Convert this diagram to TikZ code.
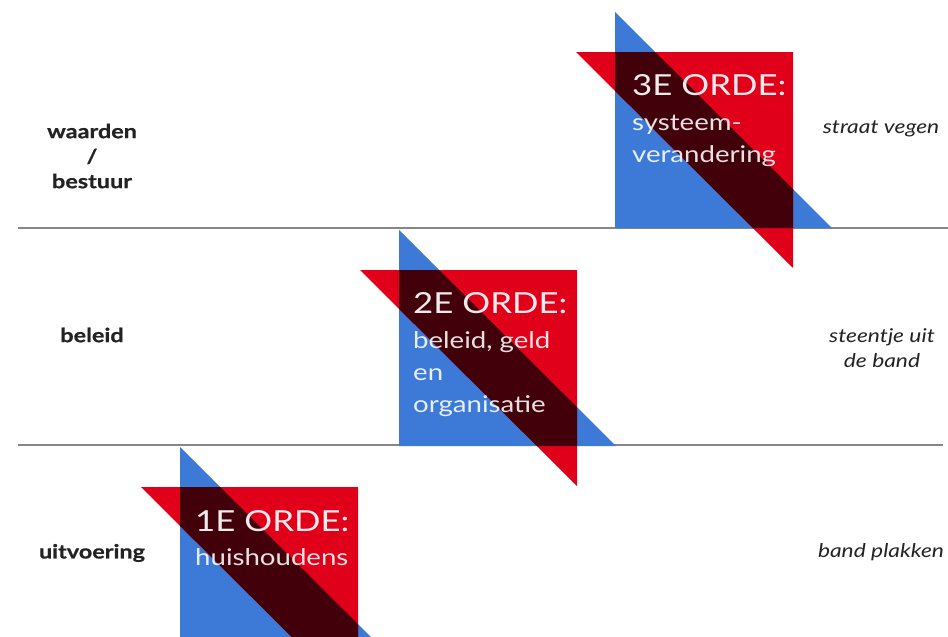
\documentclass[tikz,border=0pt]{standalone}
\usepackage{fontspec}
\setmainfont{Lato}
\newfontfamily\widelato[FakeStretch=1.2]{Lato}
\newfontfamily\widelatobold[FakeStretch=1.2,FakeBold=0.6]{Lato Bold}
\newfontfamily\widelatoit[FakeStretch=1.2]{Lato Italic}
\definecolor{tblue}{RGB}{61,122,216}
\definecolor{tred}{RGB}{225,0,26}
\definecolor{tdark}{RGB}{66,0,10}
\definecolor{tline}{RGB}{135,135,135}
\definecolor{ttext}{RGB}{35,35,35}
\tikzset{
  rowline/.style={draw=tline, line width=1.6pt},
  lefttext/.style={font=\widelatobold\fontsize{19.5}{25}\selectfont, text=ttext, align=center, inner sep=0pt},
  righttext/.style={font=\widelatoit\fontsize{19}{25}\selectfont, text=ttext, align=center, inner sep=0pt},
  titletext/.style={font=\widelato\fontsize{29}{32}\selectfont, text=white, text opacity=0.92, anchor=base west, inner sep=0pt},
  subtext/.style={font=\widelato\fontsize{23}{32}\selectfont, text=white, text opacity=0.88, anchor=base west, inner sep=0pt, align=left},
}
\begin{document}
\begin{tikzpicture}[x=1pt,y=-1pt]
\useasboundingbox (0,0) rectangle (948,637);
\fill[white] (0,0) rectangle (948,637);
\clip (0,0) rectangle (948,637);
% row lines
\draw[rowline] (18,228) -- (948,228);
\draw[rowline] (18,445) -- (943,445);
% blocks
\foreach \bx/\by in {615/12, 399/230, 180/447}{
  \fill[tblue] (\bx,\by) -- (\bx,\by+216) -- (\bx+217,\by+216) -- cycle;
  \fill[tred] (\bx-39,\by+40) -- (\bx+178,\by+40) -- (\bx+178,\by+256) -- cycle;
  \begin{scope}
    \clip (\bx,\by) -- (\bx,\by+216) -- (\bx+217,\by+216) -- cycle;
    \fill[tdark] (\bx-39,\by+40) -- (\bx+178,\by+40) -- (\bx+178,\by+256) -- cycle;
  \end{scope}
}
% block texts
\node[titletext] (t3) at (632,95) {3E ORDE:};
\node[subtext] (s3a) at (632,130) {systeem-};
\node[subtext] (s3b) at (632,162) {verandering};
\node[titletext] (t2) at (413,313) {2E ORDE:};
\node[subtext] (s2a) at (413,348) {beleid, geld};
\node[subtext] (s2b) at (413,380) {en};
\node[subtext] (s2c) at (413,412) {organisatie};
\node[titletext] (t1) at (195,531) {1E ORDE:};
\node[subtext] (s1a) at (195,565) {huishoudens};
% left labels
\node[lefttext] (l3) at (92,156) {waarden\\/\\bestuur};
\node[lefttext] (l2) at (92,335) {beleid};
\node[lefttext] (l1) at (92,553) {uitvoering};
% right labels
\node[righttext] (r3) at (881,129) {straat vegen};
\node[righttext] (r2) at (882,348) {steentje uit\\de band};
\node[righttext] (r1) at (881,552) {band plakken};
\end{tikzpicture}
\end{document}
